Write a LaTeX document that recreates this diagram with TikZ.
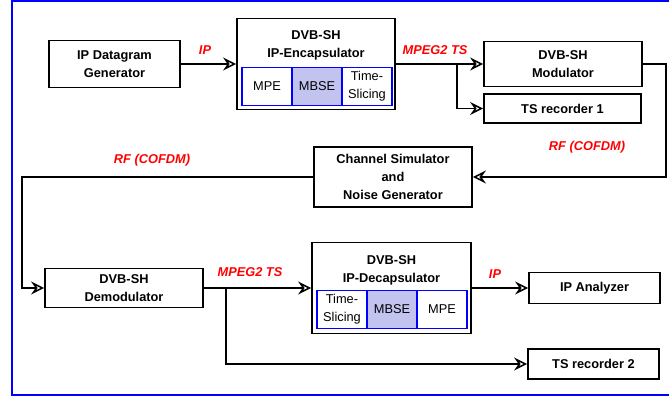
\documentclass[tikz,border=0pt]{standalone}
\usepackage{fontspec}
\setmainfont{Liberation Sans}
\usetikzlibrary{arrows.meta}
\definecolor{mbsefill}{RGB}{195,195,240}

\begin{document}
\begin{tikzpicture}[x=1pt,y=-1pt,
    font=\fontsize{12.8}{18}\selectfont,
    block/.style={rectangle,draw,line width=1.8pt,align=center,font=\fontsize{12.8}{18}\selectfont\bfseries},
    sub node/.style={rectangle,draw=blue,line width=1.5pt,minimum width=50,minimum height=38,align=center},
    sig/.style={text=red,font=\fontsize{12.8}{15}\selectfont\bfseries\itshape},
    arr/.style={line width=1.8pt,-{Stealth[open,length=13pt,width=13pt,inset=4.5pt,line width=1.6pt]}}]
    \useasboundingbox (0,0) rectangle (669,397);
    \draw[blue,line width=1.8pt] (12,1) rectangle (680,395);

    % transmit side
    \node[block,minimum width=131,minimum height=47] (gen) at (114.5,64) {IP Datagram\\Generator};
    \node[block,minimum width=158,minimum height=91] (enc) at (316,64) {};
    \node[font=\fontsize{12.8}{18}\selectfont\bfseries,align=center] (enctitle) at (316,45) {DVB-SH\\IP-Encapsulator};
    \node[sub node] (empe) at (267,86.5) {MPE};
    \node[sub node,fill=mbsefill] (embse) at (317,86.5) {MBSE};
    \node[sub node] (ets) at (367,86.5) {Time-\\Slicing};
    \node[block,minimum width=158,minimum height=45] (mod) at (563,64) {DVB-SH\\Modulator};
    \node[block,minimum width=157,minimum height=29] (ts1) at (562.5,108.5) {TS recorder 1};

    % channel
    \node[block,minimum width=158,minimum height=60] (chan) at (393,177) {Channel Simulator\\and\\Noise Generator};

    % receive side
    \node[block,minimum width=158,minimum height=39] (demod) at (124,288) {DVB-SH\\Demodulator};
    \node[block,minimum width=159,minimum height=91] (dec) at (391.5,288) {};
    \node[font=\fontsize{12.8}{18}\selectfont\bfseries,align=center] (dectitle) at (391.5,270) {DVB-SH\\IP-Decapsulator};
    \node[sub node] (dts) at (342,309.5) {Time-\\Slicing};
    \node[sub node,fill=mbsefill] (dmbse) at (392,309.5) {MBSE};
    \node[sub node] (dmpe) at (442,309.5) {MPE};
    \node[block,minimum width=131,minimum height=31] (ipa) at (594.5,288) {IP Analyzer};
    \node[block,minimum width=131,minimum height=30] (ts2) at (593.5,364) {TS recorder 2};

    % signal labels
    \node[sig] (lip1) at (205,50) {IP};
    \node[sig] (lts1) at (435,50) {MPEG2 TS};
    \node[sig] (lrf1) at (587,147) {RF (COFDM)};
    \node[sig] (lrf2) at (152,160) {RF (COFDM)};
    \node[sig] (lts2) at (250,272) {MPEG2 TS};
    \node[sig] (lip2) at (495,274) {IP};

    % connections
    \draw[arr] (gen) -- (enc);
    \draw[arr] (enc) -- (mod);
    \coordinate (br1) at (457,64);
    \draw[arr] (br1) |- (ts1.west);
    \draw[arr] (mod.east) -- ++(23,0) |- (chan.east);
    \draw[arr] (chan.west) -- ++(-291,0) |- (demod.west);
    \draw[arr] (demod) -- (dec);
    \coordinate (br2) at (226,288);
    \draw[arr] (br2) |- (ts2.west);
    \draw[arr] (dec) -- (ipa);
\end{tikzpicture}
\end{document}
